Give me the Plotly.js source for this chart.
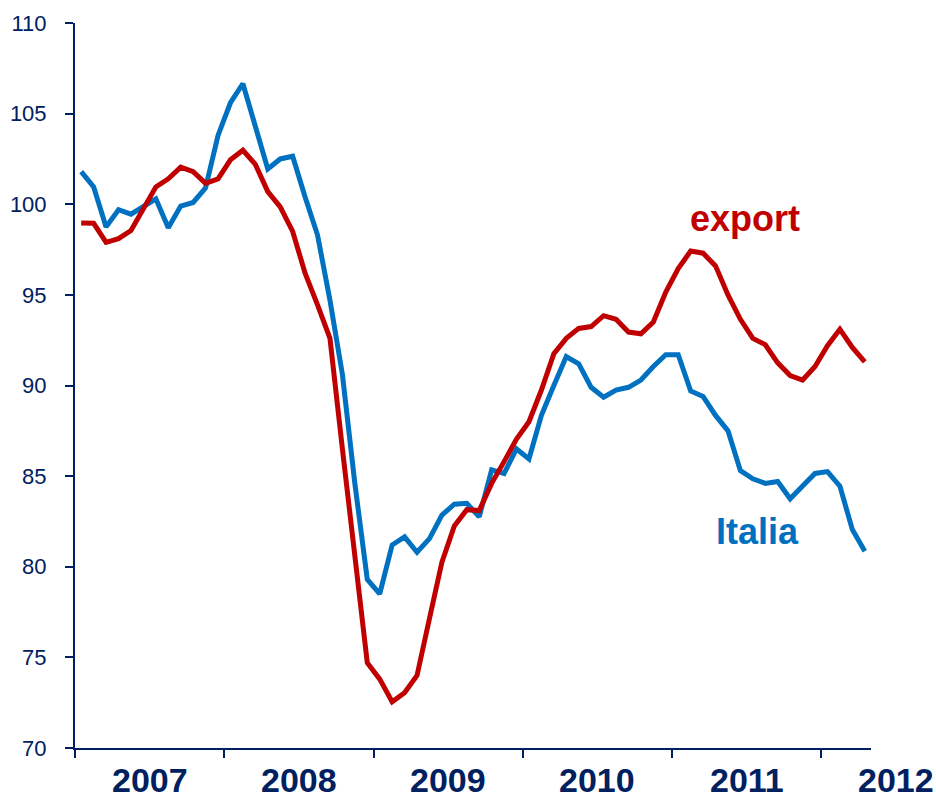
<!DOCTYPE html>
<html>
<head>
<meta charset="utf-8">
<script src="https://cdn.plot.ly/plotly-3.0.1.min.js"></script>
<style>
  html, body { margin: 0; padding: 0; background: #ffffff; }
  #chart { width: 936px; height: 801px; }
</style>
</head>
<body>
<div id="chart"></div>
<script>
// Year labels for the x axis (monthly data, Jan 2007 - Apr 2012)
const years = ['2007', '2008', '2009', '2010', '2011', '2012'];
const monthsPerYear = 12;

// Series names
const seriesNames = ['export', 'Italia'];

// Monthly index values
const exportValues = [
  98.97, 98.95, 97.9, 98.1, 98.55, 99.7, 100.95, 101.4, 102.05, 101.8, 101.15, 101.4,
  102.45, 102.98, 102.2, 100.7, 99.85, 98.5, 96.2, 94.45, 92.6, 86.5, 80.5, 74.7,
  73.8, 72.55, 73.05, 74.0, 77.15, 80.25, 82.25, 83.15, 83.1, 84.6, 85.8, 87.05,
  88.0, 89.75, 91.75, 92.6, 93.15, 93.25, 93.85, 93.65, 92.95, 92.85, 93.5, 95.15,
  96.45, 97.42, 97.3, 96.6, 95.0, 93.65, 92.6, 92.25, 91.25, 90.55, 90.3, 91.05,
  92.2, 93.1, 92.1, 91.3
];
const italiaValues = [
  101.8, 100.95, 98.75, 99.7, 99.45, 99.85, 100.3, 98.7, 99.9, 100.1, 100.9, 103.8,
  105.6, 106.65, 104.3, 101.95, 102.5, 102.65, 100.4, 98.3, 94.7, 90.6, 84.6, 79.3,
  78.5, 81.2, 81.65, 80.8, 81.55, 82.85, 83.45, 83.5, 82.75, 85.35, 85.15, 86.5,
  85.95, 88.35, 90.0, 91.6, 91.2, 89.9, 89.35, 89.75, 89.9, 90.3, 91.05, 91.7,
  91.7, 89.7, 89.4, 88.35, 87.5, 85.3, 84.85, 84.6, 84.7, 83.75, 84.45, 85.15,
  85.25, 84.45, 82.05, 80.85
];

// y-axis ticks
const yTicks = [70, 75, 80, 85, 90, 95, 100, 105, 110];

const navy = '#002060';
const red = '#C00000';
const blue = '#0070C0';

// each month point sits in the middle of its month slot
const xMonths = exportValues.map((_, i) => i + 0.5);
const nMonths = exportValues.length;

const traces = [
  {
    x: xMonths, y: italiaValues, type: 'scatter', mode: 'lines', name: seriesNames[1],
    line: { color: blue, width: 5 }, hoverinfo: 'y'
  },
  {
    x: xMonths, y: exportValues, type: 'scatter', mode: 'lines', name: seriesNames[0],
    line: { color: red, width: 5 }, hoverinfo: 'y'
  }
];

// year labels centred in each year slot (the last one lies past the axis end)
const yearAnnotations = years.map((yr, k) => ({
  x: (k * monthsPerYear + monthsPerYear / 2) / nMonths, xref: 'paper',
  y: 0, yref: 'paper', yanchor: 'middle', yshift: -32,
  xanchor: 'center', showarrow: false, text: '<b>' + yr + '</b>',
  font: { family: '"Liberation Sans", Arial, sans-serif', size: 34, color: navy }
}));

const labelAnnotations = [
  { x: 53.9, y: 99.2, xref: 'x', yref: 'y', text: '<b>' + seriesNames[0] + '</b>',
    showarrow: false, xanchor: 'center', yanchor: 'middle',
    font: { family: '"Liberation Sans", Arial, sans-serif', size: 36, color: red } },
  { x: 54.87, y: 81.96, xref: 'x', yref: 'y', text: '<b>' + seriesNames[1] + '</b>',
    showarrow: false, xanchor: 'center', yanchor: 'middle',
    font: { family: '"Liberation Sans", Arial, sans-serif', size: 36, color: blue } }
];

const layout = {
  width: 936, height: 801,
  margin: { l: 75, r: 65, t: 23, b: 53, pad: 0 },
  paper_bgcolor: '#ffffff', plot_bgcolor: '#ffffff',
  showlegend: false,
  xaxis: {
    range: [0, nMonths], showgrid: false, zeroline: false,
    showline: true, linecolor: navy, linewidth: 2,
    tickmode: 'array', tickvals: years.map((_, k) => k * monthsPerYear),
    ticks: 'outside', ticklen: 8, tickwidth: 2, tickcolor: navy,
    showticklabels: false, fixedrange: true
  },
  yaxis: {
    range: [70, 110], showgrid: false, zeroline: false,
    showline: true, linecolor: navy, linewidth: 2,
    tickmode: 'array', tickvals: yTicks, ticktext: yTicks.map(String),
    ticks: 'outside', ticklen: 8, tickwidth: 2, tickcolor: navy,
    ticklabelstandoff: 14,
    tickfont: { family: '"Liberation Sans", Arial, sans-serif', size: 22, color: navy },
    fixedrange: true
  },
  annotations: yearAnnotations.concat(labelAnnotations)
};

Plotly.newPlot('chart', traces, layout, { displayModeBar: false, staticPlot: true });
</script>
</body>
</html>
